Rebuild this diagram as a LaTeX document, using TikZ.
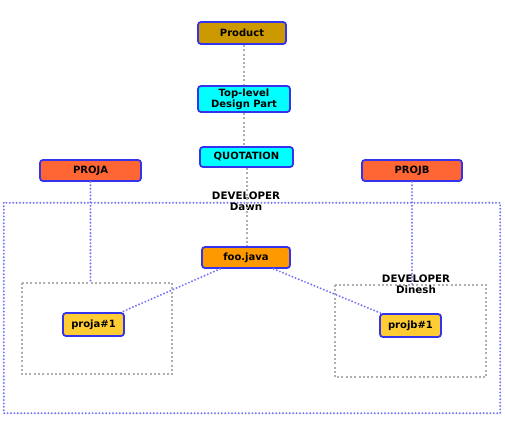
\documentclass[tikz,border=0pt]{standalone}
\usepackage{fontspec}
\setmainfont{DejaVu Sans}
\definecolor{BoxBlue}{RGB}{51,51,238}
\definecolor{DotBlue}{RGB}{120,120,250}
\definecolor{DotGray}{RGB}{175,175,175}
\definecolor{GoldFill}{RGB}{204,153,0}
\definecolor{CyanFill}{RGB}{0,255,255}
\definecolor{ProjFill}{RGB}{255,102,51}
\definecolor{OrangeFill}{RGB}{255,153,0}
\definecolor{YellowFill}{RGB}{255,204,51}
\usepackage{tikz}
\usetikzlibrary{positioning, calc}

\tikzset{
  partbox/.style={draw=BoxBlue, line width=1.8pt, rounded corners=3pt,
    font=\fontsize{10}{11}\selectfont\bfseries, align=center,
    inner sep=1pt},
  bluedots/.style={DotBlue, line width=2.2pt, line cap=round,
    dash pattern=on 0pt off 3.4pt},
  graydots/.style={DotGray, line width=2pt,
    dash pattern=on 2pt off 2.3pt},
  devlabel/.style={font=\fontsize{10.3}{11}\selectfont\bfseries, align=center,
    inner sep=0pt}
}

\begin{document}
\begin{tikzpicture}[x=1pt, y=-1pt]

  % Frame of the picture
  \useasboundingbox (0,0) rectangle (505,420);

  % Developer groups
  \node[draw=none, minimum width=496pt, minimum height=210pt, inner sep=0pt]
        (dawngrp) at (252,308) {};
  \draw[bluedots]
        (dawngrp.north west) rectangle (dawngrp.south east);

  \node[draw=none, minimum width=150pt, minimum height=91pt, inner sep=0pt]
        (grpa) at (97,328.5) {};
  \draw[graydots]
        (grpa.north west) rectangle (grpa.south east);

  \node[draw=none, minimum width=151pt, minimum height=92pt, inner sep=0pt]
        (grpb) at (410.5,331) {};
  \draw[graydots]
        (grpb.north west) rectangle (grpb.south east);

  % Parts
  \node[partbox, fill=GoldFill, minimum width=88pt, minimum height=22pt]
        (product) at (242,33) {Product};

  \node[partbox, fill=CyanFill, minimum width=92pt, minimum height=26pt]
        (toplevel) at (244,99) {Top-level\\Design Part};

  \node[partbox, fill=CyanFill, minimum width=93pt, minimum height=20pt]
        (quotation) at (246.5,157) {QUOTATION};

  \node[partbox, fill=ProjFill, minimum width=101pt, minimum height=21pt]
        (proja) at (90.5,170.5) {PROJA};

  \node[partbox, fill=ProjFill, minimum width=100pt, minimum height=21pt]
        (projb) at (412,170.5) {PROJB};

  \node[partbox, fill=OrangeFill, minimum width=88pt, minimum height=21pt]
        (foo) at (246,257.5) {foo.java};

  \node[partbox, fill=YellowFill, minimum width=61pt, minimum height=23pt]
        (projaone) at (93.5,324.5) {proja\#1};

  \node[partbox, fill=YellowFill, minimum width=61pt, minimum height=23pt]
        (projbone) at (410.5,325.5) {projb\#1};

  % Developer names
  \node[devlabel]
        (dawn) at (246,201) {DEVELOPER\\Dawn};

  \node[devlabel]
        (dinesh) at (416,284) {DEVELOPER\\Dinesh};

  % Links
  \draw[graydots] (toplevel |- product.south) -- (toplevel);
  \draw[graydots] (toplevel) -- (toplevel |- quotation.north);
  \draw[graydots] (quotation) -- (quotation |- foo.north);

  \draw[bluedots] (proja) -- (proja |- grpa.north);
  \draw[bluedots] (projb) -- (projb |- grpb.north);

  \draw[bluedots] (foo) -- (projaone);
  \draw[bluedots] (foo) -- (projbone);

\end{tikzpicture}
\end{document}
